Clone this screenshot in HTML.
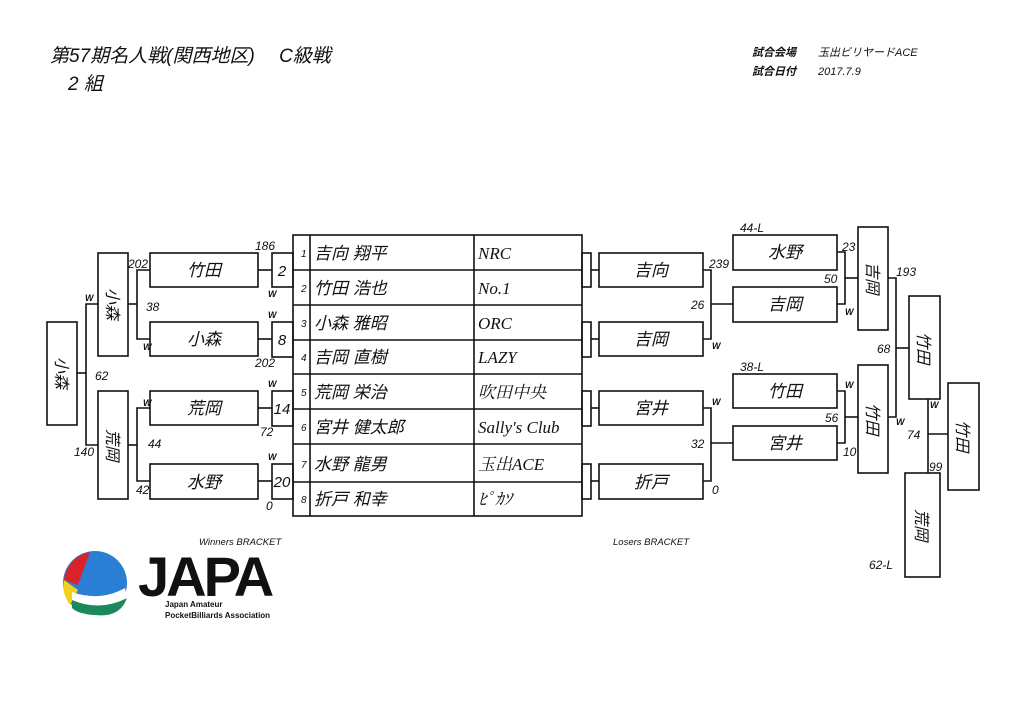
<!DOCTYPE html>
<html><head><meta charset="utf-8"><style>
html,body{margin:0;padding:0;background:#fff;}
svg{display:block;}
text{font-family:"Liberation Sans","Noto Sans CJK JP",sans-serif;fill:#111;font-style:italic;}
text.serif{font-family:"Liberation Serif","Noto Serif CJK SC",serif;}
.n{font-size:17px;}
.s{font-size:12px;}
.w{font-size:9px;font-weight:bold;}
</style></head><body>
<svg width="1024" height="725" viewBox="0 0 1024 725" xmlns="http://www.w3.org/2000/svg">
<g stroke="#111" stroke-width="1.6" fill="none">
<rect x="293" y="235" width="289" height="281"/>
<line x1="310" y1="235" x2="310" y2="516"/>
<line x1="474" y1="235" x2="474" y2="516"/>
<line x1="293" y1="270" x2="582" y2="270"/>
<line x1="293" y1="305" x2="582" y2="305"/>
<line x1="293" y1="340" x2="582" y2="340"/>
<line x1="293" y1="374" x2="582" y2="374"/>
<line x1="293" y1="409" x2="582" y2="409"/>
<line x1="293" y1="444" x2="582" y2="444"/>
<line x1="293" y1="482" x2="582" y2="482"/>
<rect x="272" y="253" width="21" height="34"/>
<rect x="272" y="322" width="21" height="35"/>
<rect x="272" y="391" width="21" height="35"/>
<rect x="272" y="464" width="21" height="35"/>
<line x1="258" y1="270" x2="272" y2="270"/>
<line x1="258" y1="339" x2="272" y2="339"/>
<line x1="258" y1="408" x2="272" y2="408"/>
<line x1="258" y1="481" x2="272" y2="481"/>
<rect x="150" y="253" width="108" height="34"/>
<rect x="150" y="322" width="108" height="34"/>
<rect x="150" y="391" width="108" height="34"/>
<rect x="150" y="464" width="108" height="35"/>
<polyline points="150,270 137,270 137,339 150,339"/>
<polyline points="150,408 137,408 137,481 150,481"/>
<line x1="128" y1="304" x2="137" y2="304"/>
<line x1="128" y1="445" x2="137" y2="445"/>
<rect x="98" y="253" width="30" height="103"/>
<rect x="98" y="391" width="30" height="108"/>
<polyline points="98,304 86,304 86,445 98,445"/>
<line x1="77" y1="373" x2="86" y2="373"/>
<rect x="47" y="322" width="30" height="103"/>
<rect x="582" y="253" width="9" height="34"/>
<rect x="582" y="322" width="9" height="35"/>
<rect x="582" y="391" width="9" height="35"/>
<rect x="582" y="464" width="9" height="35"/>
<line x1="591" y1="270" x2="599" y2="270"/>
<line x1="591" y1="339" x2="599" y2="339"/>
<line x1="591" y1="408" x2="599" y2="408"/>
<line x1="591" y1="481" x2="599" y2="481"/>
<rect x="599" y="253" width="104" height="34"/>
<rect x="599" y="322" width="104" height="34"/>
<rect x="599" y="391" width="104" height="34"/>
<rect x="599" y="464" width="104" height="35"/>
<polyline points="703,270 711,270 711,339 703,339"/>
<polyline points="703,408 711,408 711,481 703,481"/>
<line x1="711" y1="304" x2="733" y2="304"/>
<line x1="711" y1="443" x2="733" y2="443"/>
<rect x="733" y="235" width="104" height="35"/>
<rect x="733" y="287" width="104" height="35"/>
<rect x="733" y="374" width="104" height="34"/>
<rect x="733" y="426" width="104" height="34"/>
<polyline points="837,252 845,252 845,304 837,304"/>
<polyline points="837,391 845,391 845,443 837,443"/>
<line x1="845" y1="278" x2="858" y2="278"/>
<line x1="845" y1="417" x2="858" y2="417"/>
<rect x="858" y="227" width="30" height="103"/>
<rect x="858" y="365" width="30" height="108"/>
<polyline points="888,278 896,278 896,417 888,417"/>
<line x1="896" y1="348" x2="909" y2="348"/>
<rect x="909" y="296" width="31" height="103"/>
<line x1="928" y1="399" x2="928" y2="473"/>
<line x1="928" y1="434" x2="948" y2="434"/>
<rect x="948" y="383" width="31" height="107"/>
<rect x="905" y="473" width="35" height="104"/>
</g>
<text x="50" y="62" style="font-size:19px">第57期名人戦(関西地区)　 C級戦</text>
<text x="68" y="90" style="font-size:19px">2 組</text>
<text x="752" y="56" style="font-size:11px;font-weight:bold">試合会場</text>
<text x="818" y="56" style="font-size:11px">玉出ビリヤードACE</text>
<text x="752" y="75" style="font-size:11px;font-weight:bold">試合日付</text>
<text x="818" y="75" style="font-size:11px">2017.7.9</text>
<g style="font-size:10px">
<text x="301" y="257">1</text><text x="301" y="292">2</text><text x="301" y="327">3</text><text x="301" y="361">4</text>
<text x="301" y="396">5</text><text x="301" y="431">6</text><text x="301" y="468">7</text><text x="301" y="503">8</text>
</g>
<g class="n">
<text x="314" y="259">吉向 翔平</text><text x="314" y="294">竹田 浩也</text><text x="314" y="329">小森 雅昭</text><text x="314" y="363">吉岡 直樹</text>
<text x="314" y="398">荒岡 栄治</text><text x="314" y="433">宮井 健太郎</text><text x="314" y="470">水野 龍男</text><text x="314" y="505">折戸 和幸</text>
</g>
<g class="n">
<text class="serif" x="478" y="259">NRC</text><text class="serif" x="478" y="294">No.1</text><text class="serif" x="478" y="329">ORC</text><text class="serif" x="478" y="363">LAZY</text>
<text class="serif" x="478" y="398">吹田中央</text><text class="serif" x="478" y="433">Sally's Club</text><text class="serif" x="478" y="470">玉出ACE</text><text class="serif" x="478" y="505">ﾋﾟｶｿ</text>
</g>
<g class="n" text-anchor="middle">
<text x="204" y="276">竹田</text><text x="204" y="345">小森</text><text x="204" y="414">荒岡</text><text x="204" y="488">水野</text>
<text x="651" y="276">吉向</text><text x="651" y="345">吉岡</text><text x="651" y="414">宮井</text><text x="651" y="488">折戸</text>
<text x="785" y="258">水野</text><text x="785" y="310">吉岡</text><text x="785" y="397">竹田</text><text x="785" y="449">宮井</text>
</g>
<g class="n" text-anchor="middle" style="font-size:16px">
<text transform="translate(107,304) rotate(90)">小森</text>
<text transform="translate(107,445) rotate(90)">荒岡</text>
<text transform="translate(56,373) rotate(90)">小森</text>
<text transform="translate(867,278) rotate(90)">吉岡</text>
<text transform="translate(867,419) rotate(90)">竹田</text>
<text transform="translate(918,348) rotate(90)">竹田</text>
<text transform="translate(957,436) rotate(90)">竹田</text>
<text transform="translate(916,525) rotate(90)">荒岡</text>
</g>
<g class="n" style="font-size:15px" text-anchor="middle">
<text x="282" y="276">2</text><text x="282" y="345">8</text><text x="282" y="414">14</text><text x="282" y="487">20</text>
</g>
<g class="s">
<text x="255" y="250">186</text><text x="128" y="268">202</text><text x="146" y="311">38</text>
<text x="255" y="367">202</text><text x="95" y="380">62</text><text x="260" y="436">72</text>
<text x="148" y="448">44</text><text x="74" y="456">140</text><text x="136" y="494">42</text><text x="266" y="510">0</text>
<text x="709" y="268">239</text><text x="691" y="309">26</text><text x="712" y="494">0</text><text x="691" y="448">32</text>
<text x="740" y="232">44-L</text><text x="842" y="251">23</text><text x="824" y="283">50</text><text x="896" y="276">193</text>
<text x="877" y="353">68</text><text x="740" y="371">38-L</text><text x="825" y="422">56</text><text x="843" y="456">10</text>
<text x="907" y="439">74</text><text x="929" y="471">99</text><text x="869" y="569">62-L</text>
</g>
<g class="w">
<text x="268" y="297">W</text><text x="268" y="318">W</text><text x="268" y="387">W</text><text x="268" y="460">W</text>
<text x="85" y="301">W</text><text x="143" y="350">W</text><text x="143" y="406">W</text>
<text x="712" y="349">W</text><text x="712" y="405">W</text><text x="845" y="315">W</text><text x="845" y="388">W</text>
<text x="896" y="425">W</text><text x="930" y="408">W</text>
</g>
<text x="199" y="545" style="font-size:9.5px">Winners BRACKET</text>
<text x="613" y="545" style="font-size:9.5px">Losers BRACKET</text>
<g>
<circle cx="95" cy="583" r="32" fill="#2a7fd4"/>
<path d="M90,552 A32,32 0 0 0 64,580 L78,585 Z" fill="#d8232a"/>
<path d="M64,580 A32,32 0 0 0 70,605 L78,590 Z" fill="#f2d21c"/>
<path d="M72,600 Q100,612 127,598 Q120,618 95,615 Q78,614 72,608 Z" fill="#1a8a5a"/>
<path d="M72,592 Q100,602 125,588 L127,598 Q100,612 72,600 Z" fill="#fff"/>
</g>
<text x="138" y="596" style="font-size:56px;font-weight:bold;font-style:normal;letter-spacing:-3px">JAPA</text>
<text x="165" y="607" style="font-size:8px;font-weight:bold;font-style:normal">Japan Amateur</text>
<text x="165" y="618" style="font-size:8px;font-weight:bold;font-style:normal">PocketBilliards Association</text>
</svg>
</body></html>
